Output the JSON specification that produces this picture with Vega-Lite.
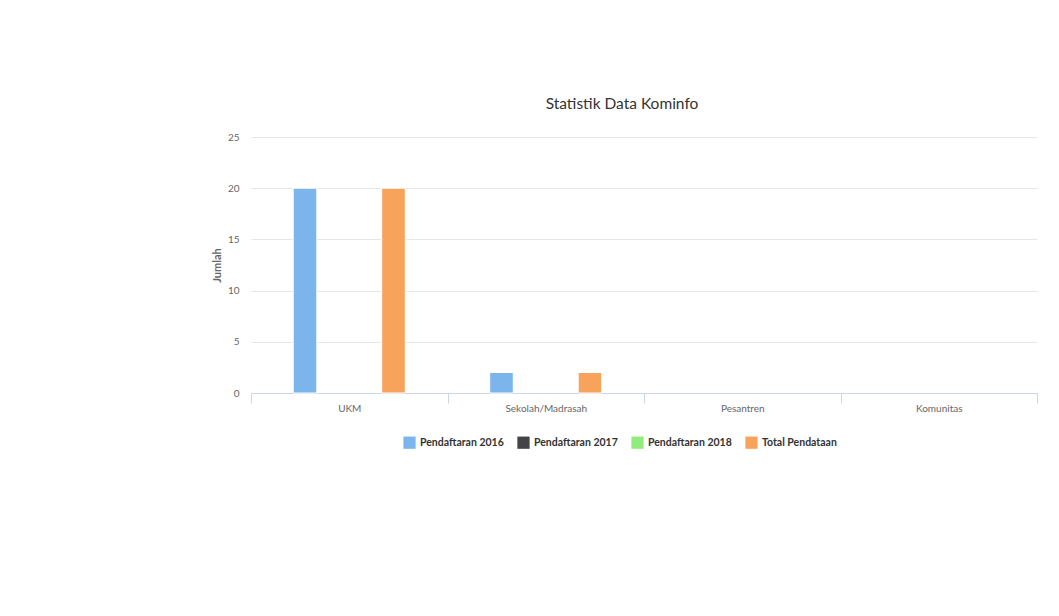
{
  "$schema": "https://vega.github.io/schema/vega-lite/v6.json",
  "width": 786,
  "height": 256,
  "autosize": {"type": "none"},
  "padding": {"left": 251, "top": 137, "right": 22, "bottom": 223},
  "background": "white",
  "config": {"font": "Lato, sans-serif", "view": {"stroke": null}},
  "title": {"text": "Statistik Data Kominfo", "fontSize": 15.5, "fontWeight": "normal", "color": "#333333", "anchor": "middle", "frame": "group", "dx": -22, "offset": 20},
  "data": {"values": [
    {"jenis": "UKM", "seri": "Pendaftaran 2016", "jumlah": 20},
    {"jenis": "UKM", "seri": "Pendaftaran 2017", "jumlah": 0},
    {"jenis": "UKM", "seri": "Pendaftaran 2018", "jumlah": 0},
    {"jenis": "UKM", "seri": "Total Pendataan", "jumlah": 20},
    {"jenis": "Sekolah/Madrasah", "seri": "Pendaftaran 2016", "jumlah": 2},
    {"jenis": "Sekolah/Madrasah", "seri": "Pendaftaran 2017", "jumlah": 0},
    {"jenis": "Sekolah/Madrasah", "seri": "Pendaftaran 2018", "jumlah": 0},
    {"jenis": "Sekolah/Madrasah", "seri": "Total Pendataan", "jumlah": 2},
    {"jenis": "Pesantren", "seri": "Pendaftaran 2016", "jumlah": 0},
    {"jenis": "Pesantren", "seri": "Pendaftaran 2017", "jumlah": 0},
    {"jenis": "Pesantren", "seri": "Pendaftaran 2018", "jumlah": 0},
    {"jenis": "Pesantren", "seri": "Total Pendataan", "jumlah": 0},
    {"jenis": "Komunitas", "seri": "Pendaftaran 2016", "jumlah": 0},
    {"jenis": "Komunitas", "seri": "Pendaftaran 2017", "jumlah": 0},
    {"jenis": "Komunitas", "seri": "Pendaftaran 2018", "jumlah": 0},
    {"jenis": "Komunitas", "seri": "Total Pendataan", "jumlah": 0}
  ]},
  "transform": [{"filter": "datum.jumlah > 0"}],
  "mark": {"type": "bar", "stroke": "white", "strokeWidth": 1},
  "encoding": {
    "x": {
      "field": "jenis", "type": "nominal",
      "scale": {"domain": ["UKM", "Sekolah/Madrasah", "Pesantren", "Komunitas"], "paddingInner": 0, "paddingOuter": 0},
      "axis": {"title": null, "labelAngle": 0, "ticks": true, "tickBand": "extent", "domainColor": "#ccd6eb", "tickColor": "#ccd6eb", "tickSize": 10, "labelColor": "#666666", "labelFontSize": 10, "labelPadding": 0, "grid": false}
    },
    "xOffset": {
      "field": "seri", "type": "nominal",
      "scale": {"domain": ["Pendaftaran 2016", "Pendaftaran 2017", "Pendaftaran 2018", "Total Pendataan"], "range": [42.2, 154.3], "paddingInner": 0.2, "paddingOuter": 0}
    },
    "y": {
      "field": "jumlah", "type": "quantitative",
      "scale": {"domain": [0, 25]},
      "axis": {"title": "Jumlah", "values": [0, 5, 10, 15, 20, 25], "domain": false, "ticks": false, "gridColor": "#e6e6e6", "labelColor": "#666666", "labelFontSize": 10, "labelPadding": 12, "titleColor": "#666666", "titleFontSize": 11, "titleFontWeight": "bold", "titlePadding": 5}
    },
    "color": {
      "field": "seri", "type": "nominal",
      "scale": {"domain": ["Pendaftaran 2016", "Pendaftaran 2017", "Pendaftaran 2018", "Total Pendataan"], "range": ["#7cb5ec", "#434348", "#90ed7d", "#f7a35c"]},
      "legend": {"title": null, "orient": "none", "legendX": 152, "legendY": 299, "direction": "horizontal", "symbolType": "square", "symbolSize": 150, "symbolStrokeWidth": 0, "symbolOpacity": 1, "labelFontSize": 10.5, "labelFontWeight": "bold", "labelColor": "#333333", "columnPadding": 13, "labelOffset": 4}
    }
  }
}
